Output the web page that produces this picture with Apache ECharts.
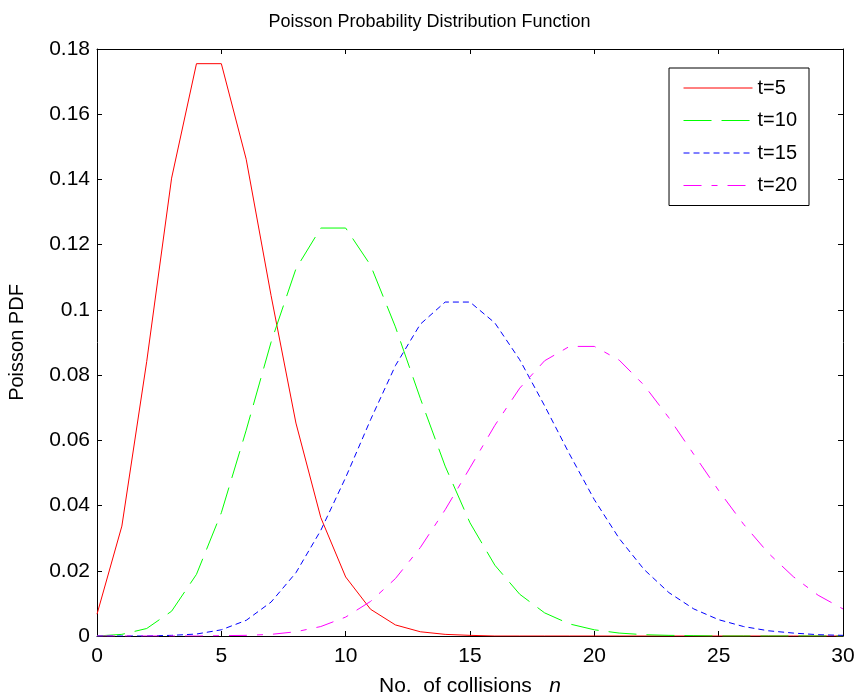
<!DOCTYPE html>
<html><head><meta charset="utf-8">
<script src="https://cdn.jsdelivr.net/npm/echarts@6/dist/echarts.min.js"></script>
<style>html,body{margin:0;padding:0;background:#fff}#c{width:859px;height:693px}</style>
</head><body><div id="c"></div>
<script>
var nValues = [0,1,2,3,4,5,6,7,8,9,10,11,12,13,14,15,16,17,18,19,20,21,22,23,24,25,26,27,28,29,30];
var t5 = [0.0067,0.0337,0.0842,0.1404,0.1755,0.1755,0.1462,0.1044,0.0653,0.0363,0.0181,0.0082,0.0034,0.0013,0.0005,0.0002,0.0000,0.0000,0.0000,0.0000,0.0000,0.0000,0.0000,0.0000,0.0000,0.0000,0.0000,0.0000,0.0000,0.0000,0.0000];
var t10 = [0.0000,0.0005,0.0023,0.0076,0.0189,0.0378,0.0631,0.0901,0.1126,0.1251,0.1251,0.1137,0.0948,0.0729,0.0521,0.0347,0.0217,0.0128,0.0071,0.0037,0.0019,0.0009,0.0004,0.0002,0.0001,0.0000,0.0000,0.0000,0.0000,0.0000,0.0000];
var t15 = [0.0000,0.0000,0.0000,0.0002,0.0006,0.0019,0.0048,0.0104,0.0194,0.0324,0.0486,0.0663,0.0829,0.0956,0.1024,0.1024,0.0960,0.0847,0.0706,0.0558,0.0418,0.0299,0.0204,0.0133,0.0083,0.0050,0.0029,0.0016,0.0009,0.0004,0.0002];
var t20 = [0.0000,0.0000,0.0000,0.0000,0.0000,0.0001,0.0002,0.0005,0.0013,0.0029,0.0058,0.0106,0.0176,0.0271,0.0387,0.0516,0.0646,0.0760,0.0844,0.0888,0.0888,0.0846,0.0769,0.0669,0.0557,0.0446,0.0343,0.0254,0.0182,0.0125,0.0083];
var seriesNames = ['t=5','t=10','t=15','t=20'];
var xTicks = {min:0, max:30, interval:5};
var yTicks = {min:0, max:0.18, interval:0.02};

var font = 'Liberation Sans, Arial, sans-serif';
function pts(arr){ return nValues.map(function(n,i){ return [n, arr[i]]; }); }
var styles = [
  {color:'#ff0000', type:'solid'},
  {color:'#00ff00', type:[28,10]},
  {color:'#0000ff', type:[6,4]},
  {color:'#ff00ff', type:[18,10,6,10]}
];
var datas = [t5,t10,t15,t20];
var chart = echarts.init(document.getElementById('c'), null, {renderer:'canvas'});
var axisCommon = {
  axisLine:{show:true, onZero:false, lineStyle:{color:'#000', width:1}},
  axisTick:{show:true, inside:true, length:5, lineStyle:{color:'#000'}},
  splitLine:{show:false}
};
chart.setOption({
  animation:false,
  backgroundColor:'#fff',
  title:{text:'Poisson Probability Distribution Function', left:'center', top:8,
    textStyle:{fontFamily:font, fontSize:18, fontWeight:'normal', color:'#000'}},
  legend:{
    right:50, top:68, orient:'vertical', itemWidth:69, itemHeight:12, itemGap:12.5,
    borderColor:'#000', borderWidth:1, padding:[10,12,10,14], backgroundColor:'#fff',
    itemStyle:{opacity:0},
    lineStyle:{width:1},
    textStyle:{fontFamily:font, fontSize:20, color:'#000'},
    data: seriesNames
  },
  grid:{left:97, right:16, top:49, bottom:57, outerBoundsMode:'none', containLabel:false},
  xAxis:[
    Object.assign({type:'value', min:xTicks.min, max:xTicks.max, interval:xTicks.interval, position:'bottom',
      name:'{a|No.  of collisions   }{b|n}', nameLocation:'middle', nameGap:40,
      nameTextStyle:{rich:{a:{fontFamily:font, fontSize:21, color:'#000'}, b:{fontFamily:font, fontSize:21, fontStyle:'italic', color:'#000'}}},
      axisLabel:{fontFamily:font, fontSize:21, color:'#000', margin:10}}, axisCommon),
    Object.assign({type:'value', min:xTicks.min, max:xTicks.max, interval:xTicks.interval, position:'top',
      axisLabel:{show:false}}, axisCommon)
  ],
  yAxis:[
    Object.assign({type:'value', min:yTicks.min, max:yTicks.max, interval:yTicks.interval, position:'left',
      name:'Poisson PDF', nameLocation:'middle', nameGap:70, nameRotate:90,
      nameTextStyle:{fontFamily:font, fontSize:20, color:'#000'},
      axisLabel:{fontFamily:font, fontSize:21, color:'#000', margin:7,
        formatter:function(v){ return String(parseFloat(v.toFixed(2))); }}}, axisCommon),
    Object.assign({type:'value', min:yTicks.min, max:yTicks.max, interval:yTicks.interval, position:'right',
      axisLabel:{show:false}}, axisCommon)
  ],
  series: seriesNames.map(function(name,i){
    return {name:name, type:'line', data:pts(datas[i]), showSymbol:false, symbol:'none',
      xAxisIndex:0, yAxisIndex:0, color:styles[i].color,
      lineStyle:{color:styles[i].color, width:1, type:styles[i].type}};
  })
});
</script></body></html>
